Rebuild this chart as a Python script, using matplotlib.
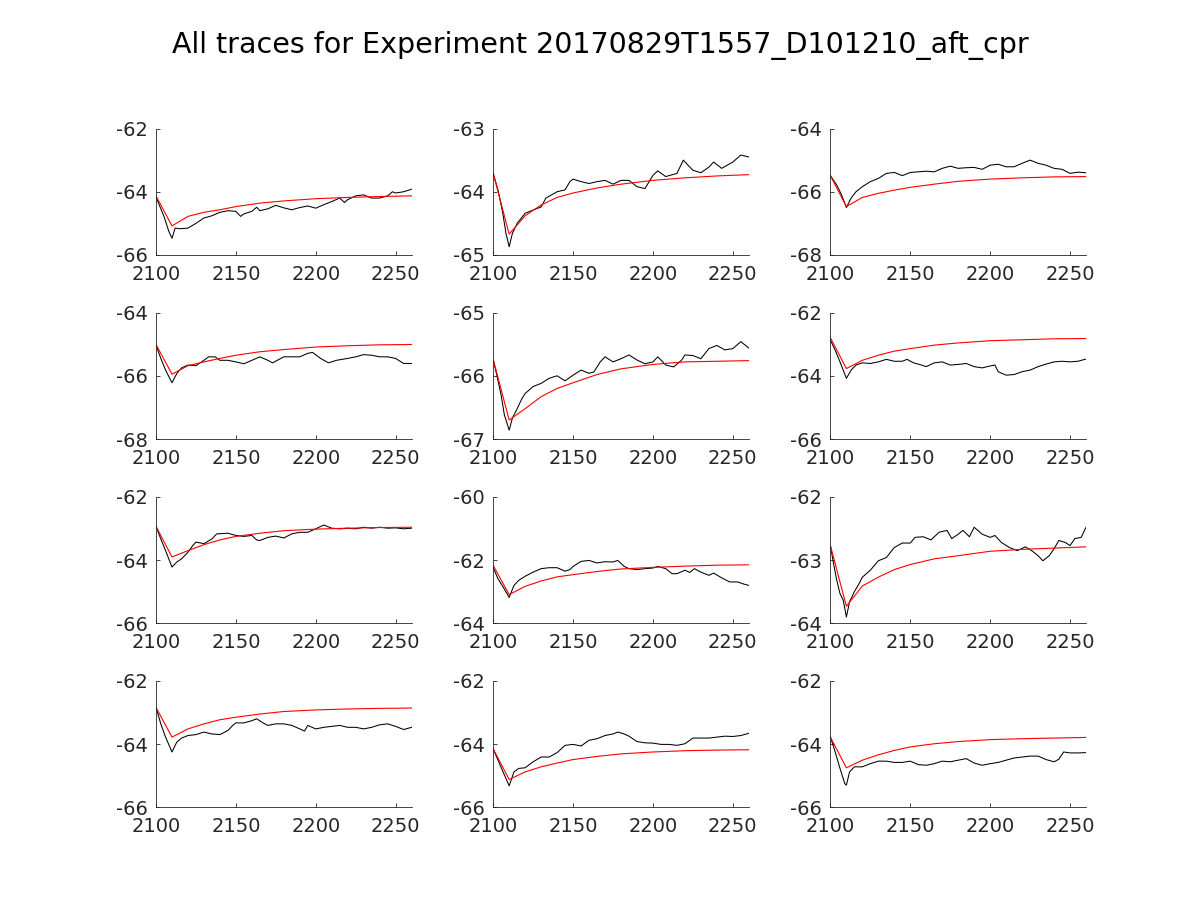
import numpy as np
import matplotlib
matplotlib.use("Agg")
import matplotlib.pyplot as plt

title = "All traces for Experiment 20170829T1557_D101210_aft_cpr"

# y-limits of each panel (row by row)
ylims = [(-66, -62), (-65, -63), (-68, -64),
         (-68, -64), (-67, -65), (-66, -62),
         (-66, -62), (-64, -60), (-64, -62),
         (-66, -62), (-66, -62), (-66, -62)]

xticks = [2100, 2150, 2200, 2250]

# red fitted curves, shared x positions
fit_x = [2100, 2110, 2120, 2130, 2140, 2150, 2165, 2180, 2200, 2220, 2240, 2260]
fit_1 = [-64.13, -65.08, -64.78, -64.65, -64.57, -64.47, -64.36, -64.29, -64.22, -64.18, -64.15, -64.13]
fit_2 = [-63.71, -64.67, -64.38, -64.21, -64.09, -64.02, -63.94, -63.88, -63.82, -63.78, -63.75, -63.73]
fit_3 = [-65.49, -66.47, -66.18, -66.05, -65.95, -65.86, -65.76, -65.67, -65.60, -65.56, -65.53, -65.52]
fit_4 = [-65.01, -65.95, -65.68, -65.56, -65.45, -65.35, -65.24, -65.17, -65.09, -65.05, -65.02, -65.01]
fit_5 = [-65.74, -66.70, -66.52, -66.33, -66.20, -66.11, -65.98, -65.89, -65.82, -65.78, -65.77, -65.76]
fit_6 = [-62.80, -63.77, -63.51, -63.35, -63.22, -63.14, -63.03, -62.96, -62.89, -62.86, -62.83, -62.82]
fit_7 = [-62.93, -63.90, -63.70, -63.51, -63.36, -63.25, -63.15, -63.07, -63.02, -62.99, -62.97, -62.96]
fit_8 = [-62.17, -63.09, -62.83, -62.66, -62.53, -62.46, -62.36, -62.28, -62.23, -62.19, -62.16, -62.15]
fit_9 = [-62.77, -63.73, -63.41, -63.27, -63.15, -63.07, -62.98, -62.93, -62.86, -62.83, -62.81, -62.79]
fit_10 = [-62.84, -63.78, -63.52, -63.36, -63.23, -63.15, -63.05, -62.97, -62.92, -62.89, -62.87, -62.86]
fit_11 = [-64.15, -65.12, -64.88, -64.72, -64.60, -64.49, -64.39, -64.31, -64.25, -64.21, -64.19, -64.18]
fit_12 = [-63.78, -64.75, -64.51, -64.34, -64.20, -64.09, -63.99, -63.92, -63.86, -63.83, -63.81, -63.79]

# black measured traces
trace_x_1 = [2100, 2105, 2108, 2110, 2112, 2115, 2120, 2125, 2130, 2135, 2140, 2145, 2150, 2153, 2155, 2160, 2163, 2165,
             2170, 2175, 2180, 2185, 2190, 2195, 2200, 2205, 2210, 2215, 2218, 2220, 2225, 2230, 2235, 2240, 2245, 2248,
             2250, 2255, 2260]
trace_y_1 = [-64.17, -64.78, -65.25, -65.47, -65.15, -65.17, -65.15, -65.00, -64.83, -64.76, -64.65, -64.60, -64.62,
             -64.78, -64.70, -64.62, -64.49, -64.60, -64.54, -64.43, -64.51, -64.57, -64.50, -64.45, -64.52, -64.41,
             -64.31, -64.20, -64.34, -64.25, -64.13, -64.10, -64.20, -64.20, -64.13, -64.00, -64.04, -64.00, -63.92]

trace_x_2 = [2100, 2103, 2106, 2108, 2110, 2112, 2115, 2120, 2125, 2130, 2133, 2140, 2145, 2148, 2150, 2155, 2160, 2165,
             2170, 2175, 2180, 2185, 2190, 2195, 2200, 2203, 2208, 2215, 2219, 2225, 2230, 2235, 2238, 2243, 2250, 2255,
             2260]
trace_y_2 = [-63.71, -63.97, -64.34, -64.66, -64.87, -64.66, -64.50, -64.34, -64.29, -64.24, -64.10, -64.00, -63.97,
             -63.84, -63.80, -63.84, -63.87, -63.84, -63.82, -63.88, -63.82, -63.82, -63.92, -63.95, -63.74, -63.67,
             -63.76, -63.71, -63.50, -63.66, -63.70, -63.61, -63.53, -63.63, -63.53, -63.42, -63.45]

trace_x_3 = [2100, 2104, 2107, 2110, 2113, 2116, 2120, 2125, 2130, 2135, 2140, 2145, 2150, 2155, 2160, 2165, 2170, 2175,
             2180, 2185, 2190, 2195, 2200, 2205, 2210, 2215, 2220, 2225, 2230, 2235, 2240, 2245, 2250, 2255, 2260]
trace_y_3 = [-65.49, -65.79, -66.10, -66.50, -66.20, -66.00, -65.84, -65.68, -65.58, -65.42, -65.39, -65.49, -65.39,
             -65.37, -65.35, -65.37, -65.26, -65.19, -65.26, -65.24, -65.23, -65.29, -65.16, -65.13, -65.21, -65.21,
             -65.10, -65.00, -65.10, -65.16, -65.26, -65.29, -65.42, -65.38, -65.40]

trace_x_4 = [2100, 2103, 2106, 2110, 2113, 2116, 2120, 2125, 2130, 2133, 2137, 2140, 2145, 2150, 2155, 2160, 2165, 2170,
             2173, 2180, 2185, 2190, 2195, 2198, 2203, 2208, 2213, 2220, 2225, 2230, 2235, 2240, 2245, 2250, 2255, 2260]
trace_y_4 = [-65.03, -65.45, -65.82, -66.22, -65.93, -65.75, -65.66, -65.68, -65.51, -65.40, -65.40, -65.51, -65.51,
             -65.56, -65.62, -65.51, -65.40, -65.51, -65.59, -65.40, -65.40, -65.40, -65.29, -65.26, -65.45, -65.59,
             -65.51, -65.45, -65.40, -65.33, -65.35, -65.40, -65.40, -65.45, -65.61, -65.61]

trace_x_5 = [2100, 2102, 2105, 2107, 2110, 2112, 2115, 2118, 2120, 2125, 2130, 2135, 2140, 2145, 2150, 2155, 2160, 2163,
             2167, 2170, 2175, 2180, 2185, 2190, 2195, 2200, 2203, 2208, 2213, 2218, 2220, 2225, 2230, 2235, 2240, 2245,
             2250, 2255, 2260]
trace_y_5 = [-65.75, -65.96, -66.31, -66.62, -66.86, -66.67, -66.52, -66.36, -66.28, -66.17, -66.12, -66.04, -66.00,
             -66.08, -65.99, -65.91, -65.96, -65.94, -65.78, -65.70, -65.78, -65.73, -65.67, -65.75, -65.81, -65.78,
             -65.70, -65.83, -65.86, -65.75, -65.67, -65.68, -65.73, -65.57, -65.52, -65.59, -65.57, -65.46, -65.56]

trace_x_6 = [2100, 2103, 2106, 2110, 2113, 2116, 2120, 2125, 2130, 2135, 2140, 2145, 2148, 2152, 2157, 2160, 2165, 2170,
             2175, 2180, 2185, 2190, 2195, 2200, 2203, 2205, 2210, 2215, 2220, 2225, 2230, 2235, 2240, 2245, 2250, 2255,
             2260]
trace_y_6 = [-62.87, -63.19, -63.56, -64.08, -63.82, -63.66, -63.59, -63.61, -63.56, -63.48, -63.54, -63.54, -63.48,
             -63.59, -63.66, -63.71, -63.59, -63.56, -63.66, -63.64, -63.61, -63.71, -63.75, -63.69, -63.66, -63.87,
             -63.98, -63.96, -63.87, -63.82, -63.71, -63.63, -63.56, -63.54, -63.56, -63.54, -63.47]

trace_x_7 = [2100, 2103, 2106, 2110, 2113, 2116, 2120, 2123, 2125, 2130, 2135, 2138, 2145, 2150, 2155, 2160, 2163, 2165,
             2170, 2175, 2180, 2185, 2190, 2195, 2200, 2205, 2210, 2215, 2220, 2225, 2230, 2235, 2240, 2245, 2250, 2255,
             2260]
trace_y_7 = [-62.93, -63.33, -63.70, -64.22, -64.06, -63.96, -63.75, -63.54, -63.43, -63.48, -63.33, -63.17, -63.15,
             -63.22, -63.25, -63.22, -63.36, -63.38, -63.28, -63.24, -63.30, -63.17, -63.12, -63.12, -63.01, -62.89,
             -62.99, -63.01, -62.99, -63.01, -62.96, -62.99, -62.96, -62.99, -62.98, -63.01, -62.99]

trace_x_8 = [2100, 2103, 2106, 2110, 2113, 2116, 2120, 2125, 2130, 2135, 2140, 2145, 2148, 2150, 2155, 2160, 2165, 2170,
             2175, 2178, 2182, 2185, 2190, 2195, 2200, 2203, 2208, 2212, 2215, 2220, 2223, 2226, 2230, 2235, 2238, 2243,
             2248, 2253, 2257, 2260]
trace_y_8 = [-62.24, -62.59, -62.83, -63.18, -62.80, -62.64, -62.51, -62.38, -62.27, -62.24, -62.24, -62.35, -62.30,
             -62.20, -62.04, -62.01, -62.09, -62.05, -62.06, -62.01, -62.20, -62.27, -62.30, -62.27, -62.25, -62.20,
             -62.27, -62.43, -62.43, -62.32, -62.39, -62.27, -62.38, -62.48, -62.41, -62.56, -62.69, -62.69, -62.76,
             -62.80]

trace_x_9 = [2100, 2102, 2104, 2106, 2108, 2110, 2112, 2115, 2118, 2120, 2125, 2130, 2135, 2140, 2145, 2150, 2153, 2158,
             2163, 2168, 2173, 2176, 2180, 2183, 2187, 2190, 2195, 2200, 2203, 2207, 2212, 2217, 2222, 2226, 2230, 2233,
             2237, 2240, 2243, 2247, 2250, 2253, 2257, 2260]
trace_y_9 = [-62.77, -63.06, -63.32, -63.53, -63.63, -63.90, -63.66, -63.50, -63.37, -63.27, -63.16, -63.01, -62.96,
             -62.80, -62.73, -62.73, -62.64, -62.63, -62.68, -62.56, -62.53, -62.66, -62.59, -62.53, -62.63, -62.48,
             -62.59, -62.64, -62.61, -62.72, -62.80, -62.85, -62.79, -62.85, -62.93, -63.01, -62.93, -62.82, -62.69,
             -62.72, -62.77, -62.66, -62.64, -62.48]

trace_x_10 = [2100, 2103, 2106, 2110, 2113, 2116, 2120, 2125, 2130, 2135, 2140, 2145, 2148, 2150, 2155, 2160, 2163, 2167,
              2170, 2175, 2180, 2185, 2190, 2193, 2195, 2200, 2205, 2210, 2215, 2220, 2225, 2230, 2235, 2240, 2245, 2250,
              2255, 2260]
trace_y_10 = [-62.84, -63.36, -63.78, -64.25, -63.94, -63.81, -63.73, -63.70, -63.62, -63.68, -63.70, -63.57, -63.41,
              -63.33, -63.33, -63.26, -63.20, -63.33, -63.41, -63.36, -63.36, -63.41, -63.52, -63.59, -63.41, -63.52,
              -63.47, -63.44, -63.41, -63.47, -63.47, -63.52, -63.47, -63.39, -63.36, -63.44, -63.54, -63.47]

trace_x_11 = [2100, 2103, 2106, 2110, 2113, 2116, 2120, 2125, 2130, 2135, 2140, 2145, 2150, 2155, 2160, 2165, 2170, 2175,
              2178, 2182, 2185, 2190, 2195, 2200, 2205, 2210, 2215, 2220, 2225, 2230, 2235, 2240, 2245, 2250, 2255, 2260]
trace_y_11 = [-64.15, -64.51, -64.86, -65.32, -64.88, -64.77, -64.75, -64.56, -64.41, -64.41, -64.27, -64.04, -64.01,
              -64.06, -63.88, -63.83, -63.73, -63.68, -63.62, -63.68, -63.75, -63.92, -63.96, -63.97, -64.01, -64.01,
              -64.04, -63.99, -63.81, -63.81, -63.81, -63.78, -63.75, -63.76, -63.73, -63.66]

trace_x_12 = [2100, 2103, 2106, 2109, 2110, 2112, 2115, 2120, 2125, 2130, 2135, 2140, 2145, 2150, 2155, 2160, 2165, 2170,
              2175, 2180, 2185, 2190, 2195, 2200, 2205, 2210, 2215, 2220, 2225, 2230, 2235, 2240, 2243, 2246, 2250, 2255,
              2260]
trace_y_12 = [-63.78, -64.25, -64.77, -65.25, -65.30, -64.88, -64.72, -64.72, -64.62, -64.54, -64.54, -64.58, -64.58,
              -64.54, -64.65, -64.67, -64.62, -64.54, -64.56, -64.51, -64.46, -64.60, -64.67, -64.62, -64.58, -64.51,
              -64.44, -64.41, -64.38, -64.38, -64.49, -64.56, -64.48, -64.25, -64.28, -64.28, -64.27]

fits = [fit_1, fit_2, fit_3, fit_4, fit_5, fit_6, fit_7, fit_8, fit_9, fit_10, fit_11, fit_12]
traces_x = [trace_x_1, trace_x_2, trace_x_3, trace_x_4, trace_x_5, trace_x_6,
            trace_x_7, trace_x_8, trace_x_9, trace_x_10, trace_x_11, trace_x_12]
traces_y = [trace_y_1, trace_y_2, trace_y_3, trace_y_4, trace_y_5, trace_y_6,
            trace_y_7, trace_y_8, trace_y_9, trace_y_10, trace_y_11, trace_y_12]

fig = plt.figure(figsize=(12, 9), dpi=100)
fig.text(0.5, 0.949, title, ha='center', va='center', fontsize=20.5, color='black')

lefts = [0.130, 0.411, 0.692]
bottoms = [0.7167, 0.5122, 0.3074, 0.1030]
width = 0.213
height = 0.1405

for i in range(12):
    r, c = divmod(i, 3)
    ax = fig.add_axes([lefts[c], bottoms[r], width, height])
    ax.plot(traces_x[i], traces_y[i], color='black', linewidth=0.75)
    ax.plot(fit_x, fits[i], color='red', linewidth=0.8)
    lo, hi = ylims[i]
    ax.set_xlim(2100, 2260)
    ax.set_ylim(lo, hi)
    ax.set_xticks(xticks)
    ax.set_yticks([lo, (lo + hi) / 2, hi])
    ax.set_yticklabels(['%d' % v for v in [lo, (lo + hi) / 2, hi]])
    ax.spines['top'].set_visible(False)
    ax.spines['right'].set_visible(False)
    for s in ['left', 'bottom']:
        ax.spines[s].set_color('#262626')
        ax.spines[s].set_linewidth(0.6)
    ax.tick_params(direction='in', length=3, width=0.6, colors='#262626',
                   labelsize=14, labelcolor='#262626')
    ax.tick_params(axis='x', pad=7)
    ax.tick_params(axis='y', pad=6)

fig.savefig('out.png', dpi=100)
